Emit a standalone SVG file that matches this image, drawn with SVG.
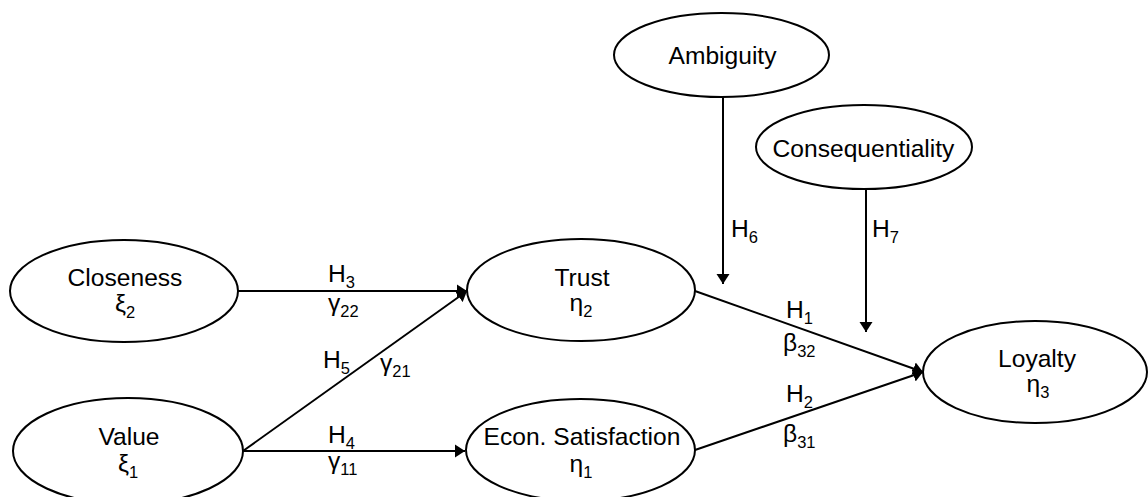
<svg xmlns="http://www.w3.org/2000/svg" width="1148" height="497" viewBox="0 0 1148 497">
<style>
.node ellipse{fill:#fff;stroke:#000;stroke-width:2}
text{font-family:"Liberation Sans",Arial,sans-serif;font-size:24.6px;fill:#000}
.n{text-anchor:middle}
.sub{font-size:16.5px}
.edge{stroke:#000;stroke-width:2;fill:none;marker-end:url(#arr)}
</style>
<defs>
<marker id="arr" markerUnits="userSpaceOnUse" markerWidth="11" markerHeight="14" refX="10" refY="7" orient="auto">
<path d="M0,0.5 L10,7 L0,13.5 z" fill="#000"/>
</marker>
</defs>
<rect width="1148" height="497" fill="#fff"/>
<g id="connectors">
<line class="edge" x1="238" y1="291" x2="467" y2="291"/>
<line class="edge" x1="243" y1="451" x2="467" y2="291"/>
<line class="edge" x1="243" y1="451" x2="465" y2="451"/>
<line class="edge" x1="695" y1="291" x2="923" y2="372"/>
<line class="edge" x1="695" y1="450" x2="923" y2="372"/>
<line class="edge" x1="723" y1="97" x2="723" y2="284"/>
<line class="edge" x1="866" y1="189" x2="866" y2="332"/>
<text x="328" y="282">H<tspan class="sub" dy="6">3</tspan></text>
<text x="328" y="311">γ<tspan class="sub" dy="6">22</tspan></text>
<text x="323" y="368">H<tspan class="sub" dy="6">5</tspan></text>
<text x="380" y="371">γ<tspan class="sub" dy="6">21</tspan></text>
<text x="328" y="443">H<tspan class="sub" dy="6">4</tspan></text>
<text x="328" y="469">γ<tspan class="sub" dy="6">11</tspan></text>
<text x="731" y="237">H<tspan class="sub" dy="6">6</tspan></text>
<text x="872" y="237">H<tspan class="sub" dy="6">7</tspan></text>
<text x="786" y="318">H<tspan class="sub" dy="6">1</tspan></text>
<text x="783" y="351">β<tspan class="sub" dy="6">32</tspan></text>
<text x="786" y="402">H<tspan class="sub" dy="6">2</tspan></text>
<text x="783" y="442">β<tspan class="sub" dy="6">31</tspan></text>
</g>
<g id="closeness" class="node">
<ellipse cx="124" cy="291" rx="114" ry="51"/>
<text class="n" x="125" y="286">Closeness</text>
<text class="n" x="125" y="312">ξ<tspan class="sub" dy="6">2</tspan></text>
</g>
<g id="value" class="node">
<ellipse cx="128" cy="451" rx="115" ry="53"/>
<text class="n" x="129" y="445">Value</text>
<text class="n" x="128" y="472">ξ<tspan class="sub" dy="6">1</tspan></text>
</g>
<g id="trust" class="node">
<ellipse cx="581" cy="290" rx="114" ry="51"/>
<text class="n" x="582" y="286">Trust</text>
<text class="n" x="581" y="311">η<tspan class="sub" dy="6">2</tspan></text>
</g>
<g id="econ" class="node">
<ellipse cx="580.5" cy="450" rx="114.5" ry="51"/>
<text class="n" x="582" y="445">Econ. Satisfaction</text>
<text class="n" x="581" y="472">η<tspan class="sub" dy="6">1</tspan></text>
</g>
<g id="loyalty" class="node">
<ellipse cx="1035" cy="372" rx="112" ry="51"/>
<text class="n" x="1037" y="367">Loyalty</text>
<text class="n" x="1038" y="392">η<tspan class="sub" dy="6">3</tspan></text>
</g>
<g id="ambiguity" class="node">
<ellipse cx="721.5" cy="55" rx="107.5" ry="42"/>
<text class="n" x="722.5" y="64">Ambiguity</text>
</g>
<g id="consequentiality" class="node">
<ellipse cx="864" cy="147" rx="108" ry="42"/>
<text class="n" x="863.5" y="157">Consequentiality</text>
</g>
</svg>
